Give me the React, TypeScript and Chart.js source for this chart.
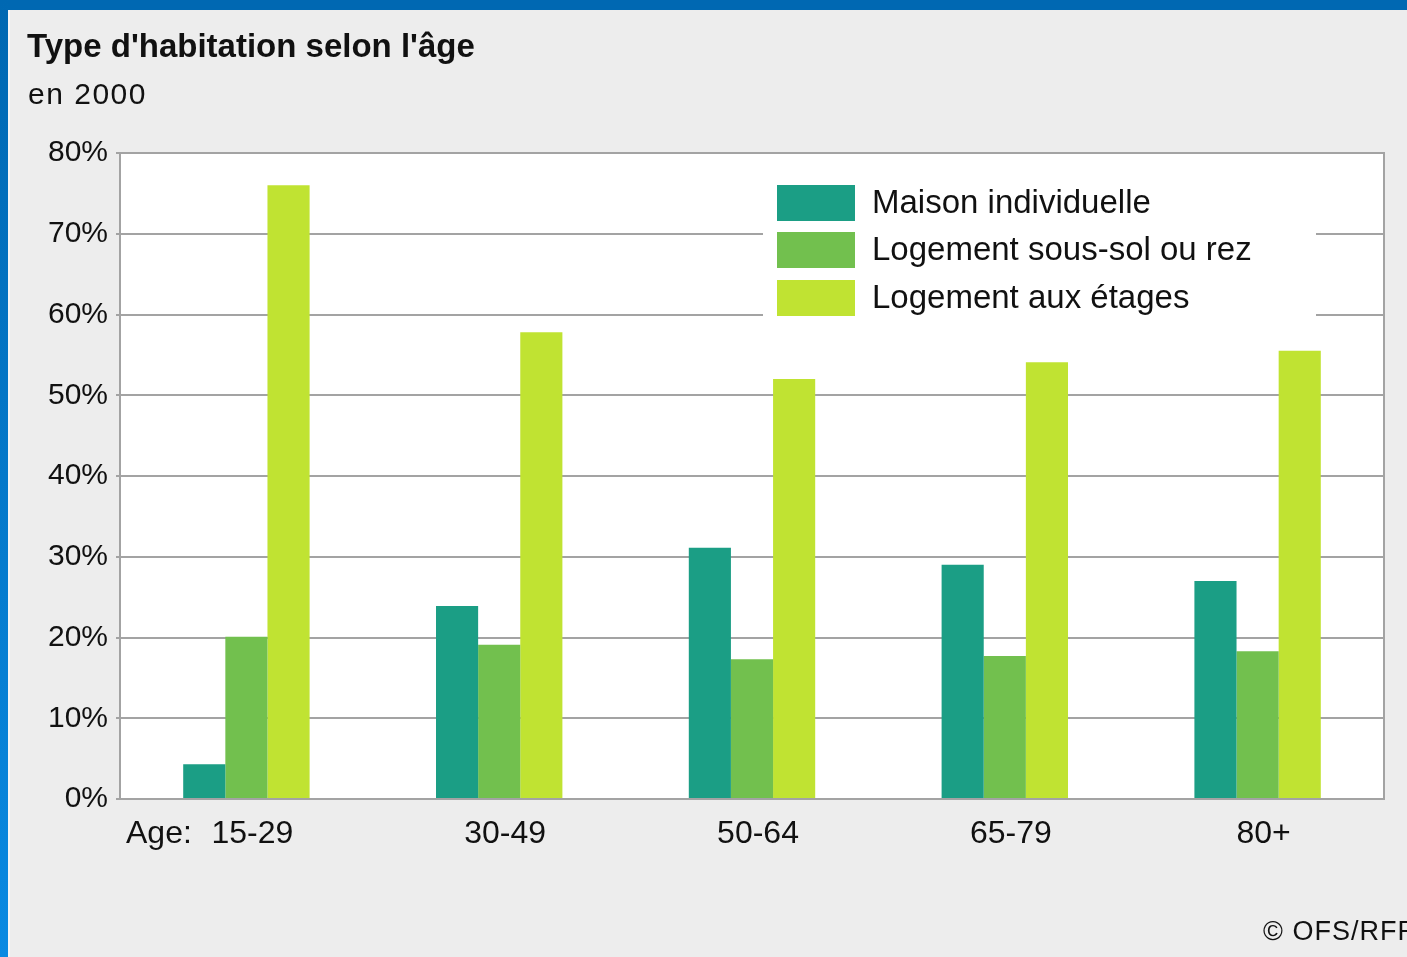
import React, { useEffect, useRef } from 'react';
import { Chart, registerables } from 'chart.js';

Chart.register(...registerables);

const categories = ['15-29', '30-49', '50-64', '65-79', '80+'];
const maisonIndividuelle = [4.3, 23.9, 31.1, 29.0, 27.0];
const sousSolOuRez = [20.1, 19.1, 17.3, 17.7, 18.3];
const auxEtages = [76.0, 57.8, 52.0, 54.1, 55.5];
const seriesLabels = ['Maison individuelle', 'Logement sous-sol ou rez', 'Logement aux étages'];
const seriesColors = ['#1b9e85', '#72c04e', '#c0e332'];
const yMax = 80;
const yStep = 10;
const axisPrefix = 'Age:';
const titleText = "Type d'habitation selon l'âge";
const subtitleText = 'en 2000';
const sourceText = '© OFS/RFP';

const FONT = '"Liberation Sans", Arial, sans-serif';
const GRID = '#a3a3a3';

const framePlugin = {
  id: 'frame',
  beforeDraw(chart: any) {
    const { ctx, chartArea: a } = chart;
    ctx.save();
    ctx.fillStyle = '#ffffff';
    ctx.fillRect(a.left, a.top, a.right - a.left, a.bottom - a.top);
    ctx.restore();
  },
  beforeDatasetsDraw(chart: any) {
    const { ctx } = chart;
    ctx.save();
    ctx.fillStyle = '#ffffff';
    ctx.fillRect(763, 162, 553, 168);
    const sw = { x: 777, w: 78, h: 36 };
    const tops = [185, 232, 280];
    ctx.font = `33px ${FONT}`;
    ctx.textBaseline = 'middle';
    ctx.textAlign = 'left';
    seriesLabels.forEach((lab, i) => {
      ctx.fillStyle = seriesColors[i];
      ctx.fillRect(sw.x, tops[i], sw.w, sw.h);
      ctx.fillStyle = '#111111';
      ctx.fillText(lab, 872, tops[i] + sw.h / 2 + 1);
    });
    ctx.restore();
  },
  afterDatasetsDraw(chart: any) {
    const { ctx, chartArea: a } = chart;
    ctx.save();
    ctx.strokeStyle = GRID;
    ctx.lineWidth = 2;
    ctx.beginPath();
    ctx.moveTo(a.right, a.top - 1);
    ctx.lineTo(a.right, a.bottom + 1);
    ctx.stroke();
    const xs = chart.scales.x;
    ctx.font = `32px ${FONT}`;
    ctx.fillStyle = '#111111';
    ctx.textAlign = 'left';
    ctx.textBaseline = 'top';
    ctx.fillText(axisPrefix, 126, xs.top + 19);
    ctx.restore();
  },
};

export default function App() {
  const ref = useRef<HTMLCanvasElement | null>(null);

  useEffect(() => {
    if (!ref.current) return;
    const chart = new Chart(ref.current, {
      type: 'bar',
      data: {
        labels: categories,
        datasets: [
          { label: seriesLabels[0], data: maisonIndividuelle, backgroundColor: seriesColors[0] },
          { label: seriesLabels[1], data: sousSolOuRez, backgroundColor: seriesColors[1] },
          { label: seriesLabels[2], data: auxEtages, backgroundColor: seriesColors[2] },
        ],
      },
      options: {
        animation: false,
        responsive: false,
        maintainAspectRatio: false,
        layout: { padding: { left: 0, right: 23, top: 153, bottom: 108 } },
        datasets: { bar: { barPercentage: 1, categoryPercentage: 0.5 } },
        plugins: { legend: { display: false }, tooltip: { enabled: false }, title: { display: false } },
        scales: {
          x: {
            grid: { display: false, drawTicks: false },
            border: { display: true, color: GRID, width: 2 },
            ticks: {
              color: '#111111',
              font: { family: FONT, size: 32 },
              padding: 16,
              labelOffset: 6,
              maxRotation: 0,
            },
            afterFit(scale: any) {
              scale.height = 50;
            },
          },
          y: {
            min: 0,
            max: yMax,
            ticks: {
              stepSize: yStep,
              color: '#111111',
              font: { family: FONT, size: 30 },
              padding: 8,
              callback: (v: any) => `${v}%`,
            },
            grid: { color: GRID, lineWidth: 2, tickLength: 4, drawTicks: true },
            border: { display: true, color: GRID, width: 2 },
            afterFit(scale: any) {
              scale.width = 120;
            },
          },
        },
      },
      plugins: [framePlugin],
    });
    return () => chart.destroy();
  }, []);

  return (
    <div
      style={{
        position: 'fixed',
        left: 0,
        top: 0,
        width: 1407,
        height: 957,
        overflow: 'hidden',
        background: '#ededed',
        fontFamily: FONT,
        color: '#111111',
      }}
    >
      <canvas ref={ref} width={1407} height={957} style={{ position: 'absolute', left: 0, top: 0 }} />
      <div style={{ position: 'absolute', left: 0, top: 0, width: 1407, height: 10, background: '#0068b2' }} />
      <div
        style={{
          position: 'absolute',
          left: 0,
          top: 0,
          width: 8,
          height: 957,
          background: 'linear-gradient(#0068b2, #0a8ae2)',
        }}
      />
      <div style={{ position: 'absolute', left: 8, top: 10, width: 2, height: 947, background: '#f6f6f6' }} />
      <div
        style={{
          position: 'absolute',
          left: 27,
          top: 29,
          fontSize: 33,
          fontWeight: 'bold',
          lineHeight: 1,
          whiteSpace: 'nowrap',
        }}
      >
        {titleText}
      </div>
      <div
        style={{
          position: 'absolute',
          left: 28,
          top: 79,
          fontSize: 30,
          letterSpacing: 1.5,
          lineHeight: 1,
          whiteSpace: 'nowrap',
        }}
      >
        {subtitleText}
      </div>
      <div
        style={{
          position: 'absolute',
          left: 1263,
          top: 918,
          fontSize: 27,
          letterSpacing: 1,
          lineHeight: 1,
          whiteSpace: 'nowrap',
        }}
      >
        {sourceText}
      </div>
    </div>
  );
}
